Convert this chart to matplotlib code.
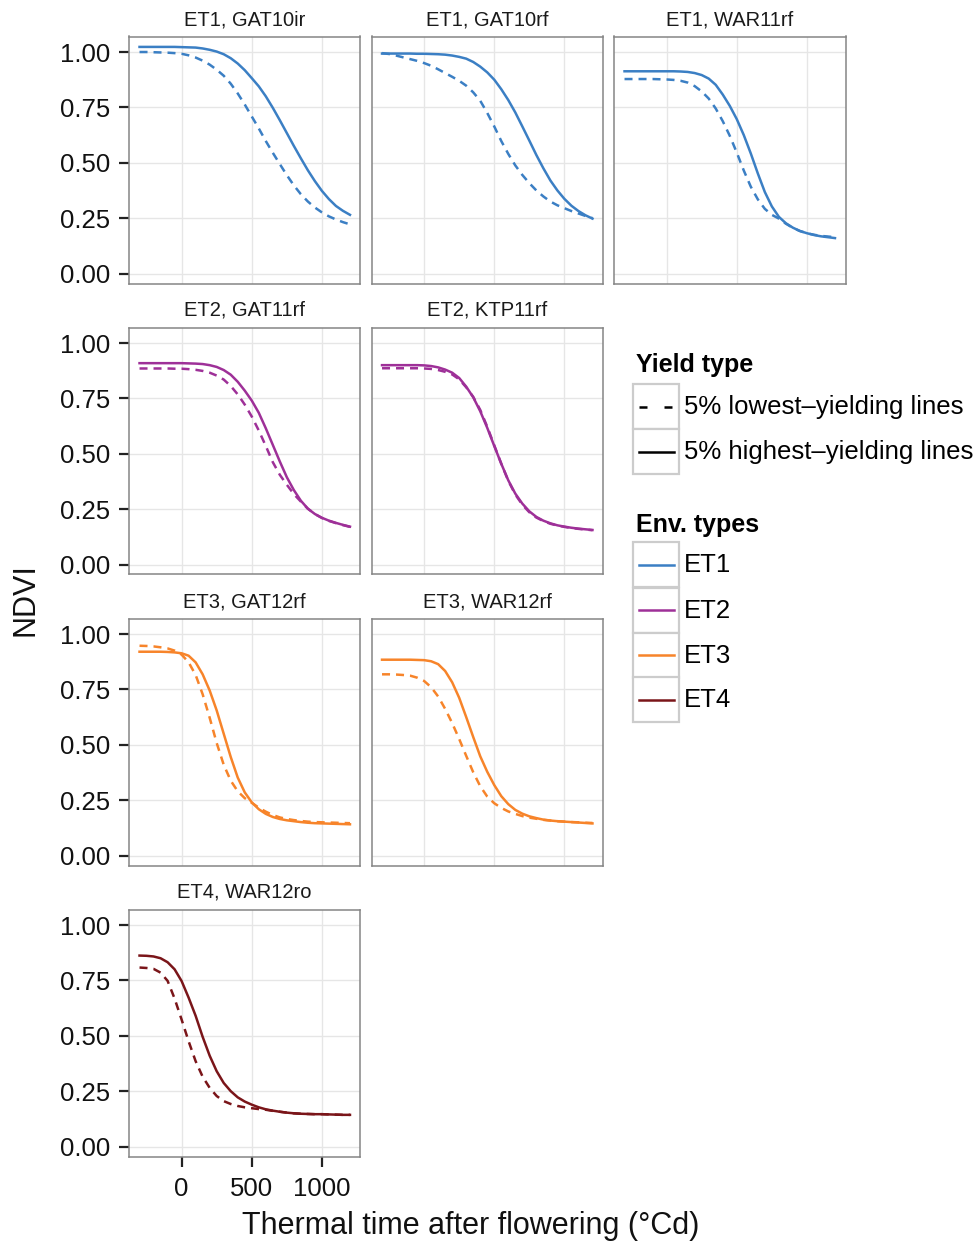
import matplotlib
matplotlib.use("Agg")
import matplotlib.pyplot as plt
from matplotlib.patches import Rectangle
from matplotlib.ticker import FormatStrFormatter

plt.rcParams['font.family'] = ['Liberation Sans', 'DejaVu Sans']

# ---------------- data ----------------
thermal_time = [-300, -250, -200, -150, -100, -50, 0, 50, 100, 150, 200, 250, 300, 350,
                400, 450, 500, 550, 600, 650, 700, 750, 800, 850, 900, 950, 1000, 1050,
                1100, 1150, 1200]

gat10ir_high = [1.023, 1.023, 1.023, 1.023, 1.023, 1.023, 1.022, 1.021, 1.020, 1.016, 1.010, 1.002,
                0.990, 0.972, 0.948, 0.918, 0.882, 0.845, 0.800, 0.748, 0.692, 0.634, 0.576, 0.520,
                0.466, 0.417, 0.373, 0.336, 0.305, 0.283, 0.265]
gat10ir_low = [1.000, 1.000, 0.999, 0.998, 0.997, 0.995, 0.992, 0.985, 0.975, 0.961, 0.943, 0.920,
               0.893, 0.857, 0.813, 0.763, 0.709, 0.655, 0.598, 0.545, 0.494, 0.444, 0.398, 0.358,
               0.325, 0.298, 0.276, 0.258, 0.244, 0.232, 0.222]

gat10rf_high = [0.993, 0.993, 0.993, 0.993, 0.993, 0.992, 0.992, 0.991, 0.990, 0.988, 0.984, 0.978,
                0.970, 0.955, 0.934, 0.908, 0.875, 0.832, 0.783, 0.727, 0.664, 0.600, 0.535, 0.475,
                0.420, 0.375, 0.337, 0.306, 0.282, 0.263, 0.248]
gat10rf_low = [0.995, 0.991, 0.984, 0.976, 0.968, 0.960, 0.950, 0.938, 0.922, 0.905, 0.888, 0.870,
               0.848, 0.818, 0.780, 0.725, 0.664, 0.598, 0.540, 0.488, 0.445, 0.408, 0.375, 0.348,
               0.325, 0.308, 0.295, 0.282, 0.271, 0.260, 0.250]

war11rf_high = [0.913, 0.913, 0.913, 0.913, 0.913, 0.913, 0.913, 0.913, 0.912, 0.910, 0.905, 0.896,
                0.880, 0.852, 0.808, 0.757, 0.697, 0.625, 0.542, 0.452, 0.368, 0.303, 0.256, 0.227,
                0.207, 0.192, 0.182, 0.174, 0.168, 0.164, 0.160]
war11rf_low = [0.878, 0.878, 0.878, 0.878, 0.878, 0.877, 0.876, 0.874, 0.870, 0.862, 0.846, 0.822,
               0.790, 0.745, 0.688, 0.622, 0.546, 0.465, 0.392, 0.335, 0.292, 0.265, 0.248, 0.225,
               0.206, 0.192, 0.182, 0.175, 0.170, 0.167, 0.164]

gat11rf_high = [0.909, 0.909, 0.909, 0.909, 0.909, 0.909, 0.909, 0.908, 0.907, 0.905, 0.900, 0.892,
                0.878, 0.857, 0.825, 0.785, 0.740, 0.685, 0.615, 0.540, 0.465, 0.394, 0.336, 0.288,
                0.252, 0.228, 0.211, 0.198, 0.188, 0.179, 0.171]
gat11rf_low = [0.885, 0.885, 0.885, 0.885, 0.885, 0.884, 0.884, 0.882, 0.879, 0.874, 0.866, 0.853,
               0.835, 0.806, 0.768, 0.722, 0.668, 0.605, 0.535, 0.462, 0.405, 0.360, 0.318, 0.284,
               0.252, 0.228, 0.210, 0.197, 0.187, 0.178, 0.170]

ktp11rf_high = [0.900, 0.900, 0.900, 0.900, 0.900, 0.900, 0.899, 0.896, 0.890, 0.880, 0.866, 0.842,
                0.803, 0.755, 0.692, 0.617, 0.535, 0.455, 0.380, 0.320, 0.275, 0.240, 0.215, 0.198,
                0.186, 0.177, 0.171, 0.166, 0.162, 0.159, 0.156]
ktp11rf_low = [0.886, 0.886, 0.886, 0.886, 0.886, 0.886, 0.885, 0.883, 0.878, 0.870, 0.858, 0.836,
               0.800, 0.757, 0.698, 0.622, 0.538, 0.455, 0.378, 0.316, 0.270, 0.236, 0.212, 0.196,
               0.184, 0.176, 0.170, 0.165, 0.161, 0.158, 0.155]

gat12rf_high = [0.920, 0.920, 0.920, 0.920, 0.919, 0.917, 0.913, 0.902, 0.872, 0.818, 0.745, 0.655,
                0.550, 0.445, 0.352, 0.285, 0.240, 0.209, 0.188, 0.174, 0.165, 0.159, 0.155, 0.151,
                0.148, 0.146, 0.145, 0.144, 0.143, 0.142, 0.141]
gat12rf_low = [0.947, 0.946, 0.944, 0.940, 0.935, 0.925, 0.907, 0.872, 0.815, 0.728, 0.622, 0.508,
               0.410, 0.338, 0.290, 0.259, 0.238, 0.216, 0.198, 0.183, 0.172, 0.165, 0.160, 0.156,
               0.153, 0.151, 0.150, 0.149, 0.148, 0.147, 0.146]

war12rf_high = [0.884, 0.884, 0.884, 0.884, 0.884, 0.883, 0.882, 0.877, 0.864, 0.833, 0.782, 0.712,
                0.625, 0.535, 0.448, 0.378, 0.318, 0.268, 0.232, 0.206, 0.189, 0.177, 0.169, 0.162,
                0.158, 0.155, 0.153, 0.151, 0.149, 0.147, 0.145]
war12rf_low = [0.818, 0.818, 0.817, 0.815, 0.812, 0.803, 0.788, 0.760, 0.718, 0.662, 0.598, 0.526,
               0.450, 0.376, 0.313, 0.266, 0.236, 0.215, 0.199, 0.188, 0.178, 0.171, 0.166, 0.161,
               0.158, 0.155, 0.153, 0.151, 0.150, 0.148, 0.147]

war12ro_high = [0.862, 0.861, 0.858, 0.850, 0.832, 0.800, 0.747, 0.672, 0.590, 0.495, 0.410, 0.340,
                0.287, 0.250, 0.222, 0.203, 0.189, 0.177, 0.168, 0.162, 0.157, 0.153, 0.150, 0.148,
                0.147, 0.146, 0.146, 0.145, 0.144, 0.143, 0.143]
war12ro_low = [0.808, 0.806, 0.802, 0.785, 0.748, 0.668, 0.573, 0.475, 0.385, 0.315, 0.265, 0.228,
               0.205, 0.192, 0.183, 0.177, 0.173, 0.169, 0.166, 0.161, 0.157, 0.153, 0.150, 0.148,
               0.147, 0.146, 0.146, 0.145, 0.144, 0.143, 0.143]

panel_titles = ["ET1, GAT10ir", "ET1, GAT10rf", "ET1, WAR11rf",
                "ET2, GAT11rf", "ET2, KTP11rf",
                "ET3, GAT12rf", "ET3, WAR12rf",
                "ET4, WAR12ro"]
panel_env = ["ET1", "ET1", "ET1", "ET2", "ET2", "ET3", "ET3", "ET4"]
panel_high = [gat10ir_high, gat10rf_high, war11rf_high, gat11rf_high, ktp11rf_high,
              gat12rf_high, war12rf_high, war12ro_high]
panel_low = [gat10ir_low, gat10rf_low, war11rf_low, gat11rf_low, ktp11rf_low,
             gat12rf_low, war12rf_low, war12ro_low]
panel_grid = [(0, 0), (0, 1), (0, 2), (1, 0), (1, 1), (2, 0), (2, 1), (3, 0)]

env_types = ["ET1", "ET2", "ET3", "ET4"]
env_colors = ["#3B7FC4", "#9E3098", "#F7842A", "#7A1519"]
yield_types = ["5% lowest\u2013yielding lines", "5% highest\u2013yielding lines"]

y_ticks = [0.0, 0.25, 0.5, 0.75, 1.0]
x_ticks = [0, 500, 1000]

# ---------------- layout ----------------
FW, FH = 977, 1243
fig = plt.figure(figsize=(FW / 100, FH / 100), dpi=100)
fig.patch.set_facecolor("white")

col_left = [129, 371.5, 614]
row_top = [36.5, 327.5, 618.5, 909.5]
PW, PH = 231.5, 247

color_of = dict(zip(env_types, env_colors))
LW = 1.8
dash = (0, (3.2, 2.4))

for title, env, hi, lo, (r, c) in zip(panel_titles, panel_env, panel_high, panel_low, panel_grid):
    L, T = col_left[c], row_top[r]
    ax = fig.add_axes([L / FW, 1 - (T + PH) / FH, PW / FW, PH / FH])
    ax.set_xlim(-375, 1275)
    ax.set_ylim(-0.045, 1.07)
    ax.set_xticks(x_ticks)
    ax.set_yticks(y_ticks)
    ax.yaxis.set_major_formatter(FormatStrFormatter('%.2f'))
    ax.grid(True, color="#E6E6E6", lw=1.0)
    ax.set_axisbelow(True)
    for s in ax.spines.values():
        s.set_color("#858585")
        s.set_linewidth(1.1)
    ax.tick_params(length=7.5, width=1.6, color="#222222", labelsize=18.5,
                   labelcolor="#111111")
    ax.tick_params(axis='y', pad=6)
    ax.tick_params(axis='x', pad=7)
    if c != 0:
        ax.tick_params(axis='y', left=False, labelleft=False)
    if (r, c) != (3, 0):
        ax.tick_params(axis='x', bottom=False, labelbottom=False)
    col = color_of[env]
    ax.plot(thermal_time, lo, color=col, lw=LW, linestyle=dash)
    ax.plot(thermal_time, hi, color=col, lw=LW, linestyle='-')
    ax.text(0.5, 1 + 17 / PH, title, transform=ax.transAxes, ha='center', va='center',
            fontsize=14.5, color="#1a1a1a")

# axis titles
fig.text(471 / FW, 1 - 1226 / FH, "Thermal time after flowering (\u00b0Cd)", ha='center',
         va='center', fontsize=22, color="#111111")
fig.text(26 / FW, 1 - 600 / FH, "NDVI", ha='center', va='center', rotation=90,
         fontsize=22, color="#111111")

# ---------------- legend ----------------
lg = fig.add_axes([0, 0, 1, 1])
lg.set_xlim(0, FW)
lg.set_ylim(FH, 0)
lg.axis('off')
lg.patch.set_alpha(0)

lg.text(636, 365, "Yield type", fontsize=18, fontweight='bold', va='center', ha='left')
yt_rows = [384, 429]
yt_styles = [(0, (3.2, 6.8)), '-']
for top, lab, ls in zip(yt_rows, yield_types, yt_styles):
    lg.add_patch(Rectangle((633, top), 46, 45, facecolor='white', edgecolor='#CCCCCC', lw=1.6))
    lg.plot([639, 674], [top + 22.5, top + 22.5], color='black', lw=LW, linestyle=ls)
    lg.text(684, top + 23, lab, fontsize=18.5, va='center', ha='left')

lg.text(636, 525, "Env. types", fontsize=18, fontweight='bold', va='center', ha='left')
et_rows = [542, 587.5, 632.5, 677]
for top, lab, col in zip(et_rows, env_types, env_colors):
    lg.add_patch(Rectangle((633, top), 46, 45, facecolor='white', edgecolor='#CCCCCC', lw=1.6))
    lg.plot([639, 674], [top + 22.5, top + 22.5], color=col, lw=LW)
    lg.text(684, top + 23, lab, fontsize=18.5, va='center', ha='left')

fig.savefig("out.png", dpi=100, facecolor='white')
